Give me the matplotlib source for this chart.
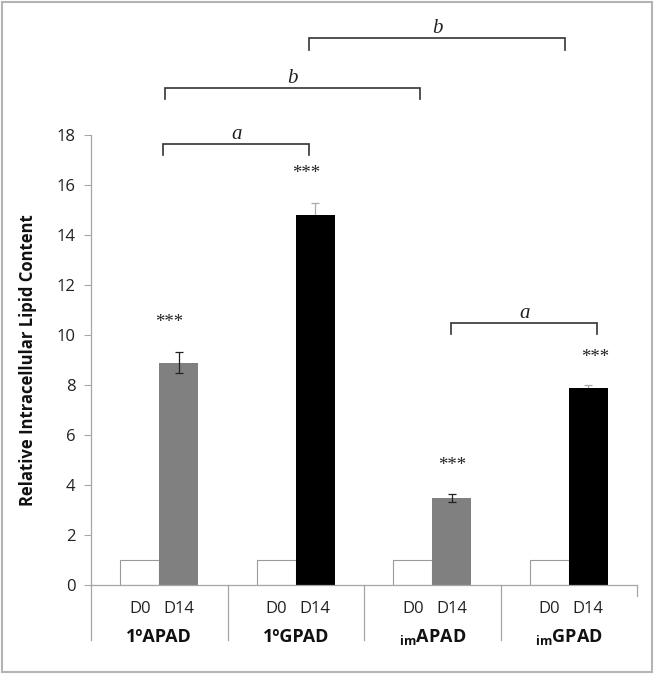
import matplotlib
matplotlib.use("Agg")
import matplotlib.pyplot as plt
from matplotlib.patches import Rectangle
import numpy as np

groups = ["1ºAPAD", "1ºGPAD", "$_{\\mathregular{im}}$APAD", "$_{\\mathregular{im}}$GPAD"]
days = ["D0", "D14"]
d0_values = [1.0, 1.0, 1.0, 1.0]
d14_values = [8.9, 14.8, 3.5, 7.9]
d14_errors = [0.4, 0.48, 0.16, 0.09]
d14_colors = ["#808080", "#000000", "#808080", "#000000"]
err_colors = ["#222222", "#aaaaaa", "#222222", "#aaaaaa"]
err_z = [3, 1, 3, 1]
stars = ["***", "***", "***", "***"]
star_y = [10.5, 16.45, 4.8, 9.1]
star_dx = [-0.07, -0.07, 0.0, 0.05]

# significance brackets: (x_left, x_right, y, label)
brackets = [
    (0.03, 1.10, 17.62, "a"),
    (0.04, 1.91, 19.88, "b"),
    (1.10, 2.97, 21.85, "b"),
    (2.14, 3.21, 10.49, "a"),
]

W, H = 654, 675
fig = plt.figure(figsize=(W / 100, H / 100), dpi=100)
ax = fig.add_axes([91 / W, 89.7 / H, 546 / W, 450.6 / H])

x = np.arange(len(groups))
bw = 0.286
ax.bar(x - bw / 2, d0_values, bw, color="white", edgecolor="#9a9a9a", linewidth=0.8, zorder=2)
for i in range(len(groups)):
    ax.bar(x[i] + bw / 2, d14_values[i], bw, color=d14_colors[i], edgecolor="none", zorder=2)
    ax.errorbar(x[i] + bw / 2, d14_values[i], yerr=d14_errors[i], fmt="none",
                ecolor=err_colors[i], elinewidth=0.9, capsize=2.8, capthick=0.9, zorder=err_z[i])
    ax.text(x[i] + bw / 2 + star_dx[i], star_y[i], stars[i], ha="center", va="center",
            fontsize=13.5, family="Liberation Serif", color="#222222")

ax.set_xlim(-0.5, 3.5)
ax.set_ylim(0, 18)
ax.set_yticks(np.arange(0, 19, 2))
ax.tick_params(axis="y", direction="out", length=5, width=0.8, color="#a6a6a6",
               labelsize=12, pad=6, labelcolor="#222222")
for lab in ax.get_yticklabels():
    lab.set_family("Open Sans")
ax.set_xticks([])
for s in ["top", "right"]:
    ax.spines[s].set_visible(False)
ax.spines["left"].set_color("#a6a6a6")
ax.spines["bottom"].set_color("#a6a6a6")
ax.spines["left"].set_linewidth(0.9)
ax.spines["bottom"].set_linewidth(0.9)

ax.set_ylabel("Relative Intracellular Lipid Content", fontsize=12, fontweight="bold",
              family="Open Sans", labelpad=14, color="#111111")

# category axis below
ybot = -2.2
for xs in [-0.5, 0.5, 1.5, 2.5]:
    ax.plot([xs, xs], [0, ybot], color="#a6a6a6", lw=0.9, clip_on=False)
ax.plot([3.5, 3.5], [0, -0.42], color="#a6a6a6", lw=0.9, clip_on=False)

for i in range(len(groups)):
    for j, d in enumerate(days):
        ax.text(x[i] + (j - 0.5) * bw, -0.95, d, ha="center", va="center", fontsize=12,
                family="Open Sans", color="#222222")
    ax.text(x[i], -2.07, groups[i], ha="center", va="center", fontsize=13,
            fontweight="bold", family="Open Sans", color="#111111")

# brackets
leg = 0.45
for xl, xr, yb, lab in brackets:
    ax.plot([xl, xl, xr, xr], [yb - leg, yb, yb, yb - leg], color="#333333", lw=1.2,
            clip_on=False, solid_joinstyle="miter")
    ax.text((xl + xr) / 2, yb + 0.38, lab, ha="center", va="center", fontsize=15,
            style="italic", family="Liberation Serif", color="#222222")

fig.patches.append(Rectangle((1.5 / W, 3 / H), 650 / W, 670.5 / H, transform=fig.transFigure,
                             fill=False, edgecolor="#b4b4b4", linewidth=1.5))

fig.savefig("out.png", dpi=100)
